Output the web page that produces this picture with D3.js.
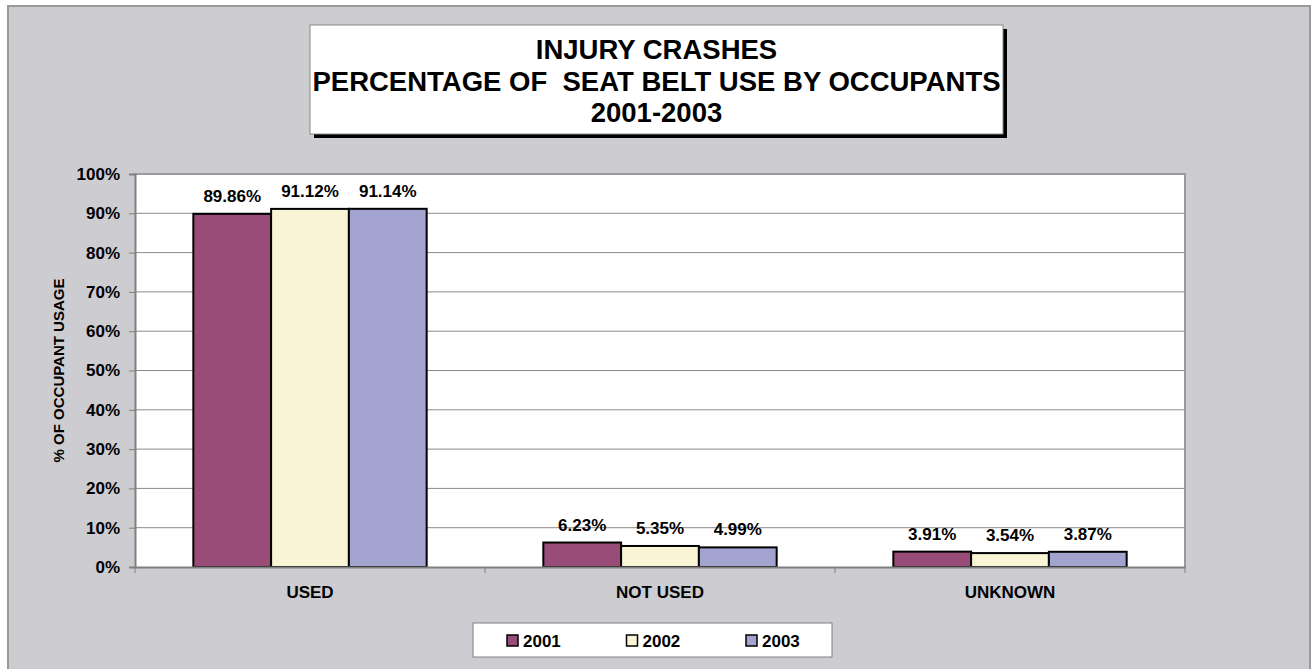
<!DOCTYPE html>
<html>
<head>
<meta charset="utf-8">
<script src="https://cdn.jsdelivr.net/npm/d3@7"></script>
<style>
  html, body { margin: 0; padding: 0; background: #fff; }
  svg { display: block; font-family: "Liberation Sans", Arial, sans-serif; }
</style>
</head>
<body>
<div id="chart"></div>
<script>
// chart data
const categories = ['USED', 'NOT USED', 'UNKNOWN'];
const years = ['2001', '2002', '2003'];
const values2001 = [89.86, 6.23, 3.91];
const values2002 = [91.12, 5.35, 3.54];
const values2003 = [91.14, 4.99, 3.87];
const yTicks = [0, 10, 20, 30, 40, 50, 60, 70, 80, 90, 100];
const titleLines = ['INJURY CRASHES', 'PERCENTAGE OF  SEAT BELT USE BY OCCUPANTS', '2001-2003'];
const yTitle = '% OF OCCUPANT USAGE';

const seriesColors = { '2001': '#994c77', '2002': '#faf4d6', '2003': '#a3a3cf' };
const seriesValues = { '2001': values2001, '2002': values2002, '2003': values2003 };

const rows = [];
categories.forEach((c, i) => {
    years.forEach(y => rows.push({ category: c, year: y, value: seriesValues[y][i] }));
});

const W = 1316, H = 669;
const plot = { left: 135, right: 1185, top: 174, bottom: 567 };
const labelFont = 17;

const svg = d3.select('#chart')
    .append('svg')
    .attr('width', W)
    .attr('height', H);

// outer chart area
svg.append('rect')
    .attr('x', 8).attr('y', 6)
    .attr('width', 1302).attr('height', 680)
    .attr('fill', '#cdccd1')
    .attr('stroke', '#9a9a9a')
    .attr('stroke-width', 2);

// title box with shadow
const tb = { x: 310, y: 25, w: 693, h: 109 };
svg.append('rect')
    .attr('x', tb.x + 4).attr('y', tb.y + 4)
    .attr('width', tb.w).attr('height', tb.h)
    .attr('fill', '#000');
svg.append('rect')
    .attr('x', tb.x).attr('y', tb.y)
    .attr('width', tb.w).attr('height', tb.h)
    .attr('fill', '#fff')
    .attr('stroke', '#888')
    .attr('stroke-width', 1);

svg.append('g')
    .selectAll('text')
    .data(titleLines)
    .enter()
    .append('text')
    .attr('x', tb.x + tb.w / 2)
    .attr('y', (d, i) => 59 + i * 31.5)
    .attr('text-anchor', 'middle')
    .attr('font-size', 27.5)
    .attr('font-weight', 'bold')
    .style('white-space', 'pre')
    .attr('fill', '#000')
    .text(d => d);

// scales
const xScale = d3.scaleBand()
    .domain(categories)
    .range([plot.left, plot.right])
    .padding(0);

const xSub = d3.scaleBand()
    .domain(years)
    .range([0, xScale.bandwidth()])
    .paddingInner(0)
    .paddingOuter(0.75);

const yScale = d3.scaleLinear()
    .domain([0, 100])
    .range([plot.bottom, plot.top]);

// plot area
svg.append('rect')
    .attr('x', plot.left).attr('y', plot.top)
    .attr('width', plot.right - plot.left)
    .attr('height', plot.bottom - plot.top)
    .attr('fill', '#fff');

// gridlines
svg.append('g')
    .selectAll('line')
    .data(yTicks.filter(t => t > 0 && t < 100))
    .enter()
    .append('line')
    .attr('x1', plot.left).attr('x2', plot.right)
    .attr('y1', d => yScale(d)).attr('y2', d => yScale(d))
    .attr('stroke', '#8a8a8a')
    .attr('stroke-width', 1);

// plot border (top/right)
svg.append('path')
    .attr('d', `M${plot.left},${plot.top}H${plot.right}V${plot.bottom}`)
    .attr('fill', 'none')
    .attr('stroke', '#9a9a9a')
    .attr('stroke-width', 2);

// bars
svg.append('g')
    .selectAll('rect')
    .data(rows)
    .enter()
    .append('rect')
    .attr('x', d => xScale(d.category) + xSub(d.year))
    .attr('y', d => yScale(d.value))
    .attr('width', xSub.bandwidth())
    .attr('height', d => yScale(0) - yScale(d.value))
    .attr('fill', d => seriesColors[d.year])
    .attr('stroke', '#000')
    .attr('stroke-width', 2);

// data labels
svg.append('g')
    .selectAll('text')
    .data(rows)
    .enter()
    .append('text')
    .attr('x', d => xScale(d.category) + xSub(d.year) + xSub.bandwidth() / 2)
    .attr('y', d => yScale(d.value) - 12)
    .attr('text-anchor', 'middle')
    .attr('font-size', labelFont)
    .attr('font-weight', 'bold')
    .text(d => d.value.toFixed(2) + '%');

// axes
const yAxis = d3.axisLeft(yScale)
    .tickValues(yTicks)
    .tickSize(6)
    .tickPadding(9)
    .tickFormat(d => d + '%');

const gy = svg.append('g')
    .attr('transform', `translate(${plot.left},0)`)
    .call(yAxis);
gy.select('.domain').attr('stroke', '#808080').attr('stroke-width', 2);
gy.selectAll('.tick line').attr('stroke', '#808080');
gy.selectAll('.tick text')
    .attr('font-size', labelFont)
    .attr('font-weight', 'bold')
    .attr('font-family', '"Liberation Sans", Arial, sans-serif')
    .attr('fill', '#000');

const xAxis = d3.axisBottom(xScale)
    .tickSize(0)
    .tickPadding(19)
    .tickSizeOuter(0);

const gx = svg.append('g')
    .attr('transform', `translate(0,${plot.bottom})`)
    .call(xAxis);
gx.select('.domain').attr('stroke', '#808080').attr('stroke-width', 2);
gx.selectAll('.tick text')
    .attr('font-size', labelFont)
    .attr('font-weight', 'bold')
    .attr('font-family', '"Liberation Sans", Arial, sans-serif')
    .attr('fill', '#000');

// category separator ticks
svg.append('g')
    .selectAll('line')
    .data(categories.concat(['end']))
    .enter()
    .append('line')
    .attr('x1', (d, i) => i < categories.length ? xScale(d) : plot.right)
    .attr('x2', (d, i) => i < categories.length ? xScale(d) : plot.right)
    .attr('y1', plot.bottom)
    .attr('y2', plot.bottom + 6)
    .attr('stroke', '#808080')
    .attr('stroke-width', 1);

// y axis title
svg.append('text')
    .attr('transform', `translate(64,${(plot.top + plot.bottom) / 2}) rotate(-90)`)
    .attr('text-anchor', 'middle')
    .attr('font-size', 15)
    .attr('font-weight', 'bold')
    .text(yTitle);

// legend
const legend = svg.append('g');
legend.append('rect')
    .attr('x', 473).attr('y', 623)
    .attr('width', 359).attr('height', 34)
    .attr('fill', '#fff')
    .attr('stroke', '#808080')
    .attr('stroke-width', 1);

const legendX = d3.scalePoint()
    .domain(years)
    .range([507, 746]);

const li = legend.selectAll('g.item')
    .data(years)
    .enter()
    .append('g')
    .attr('class', 'item')
    .attr('transform', d => `translate(${legendX(d)},635)`);
li.append('rect')
    .attr('width', 11).attr('height', 11)
    .attr('fill', d => seriesColors[d])
    .attr('stroke', '#000')
    .attr('stroke-width', 1.5);
li.append('text')
    .attr('x', 16).attr('y', 12)
    .attr('font-size', labelFont)
    .attr('font-weight', 'bold')
    .text(d => d);
</script>
</body>
</html>
